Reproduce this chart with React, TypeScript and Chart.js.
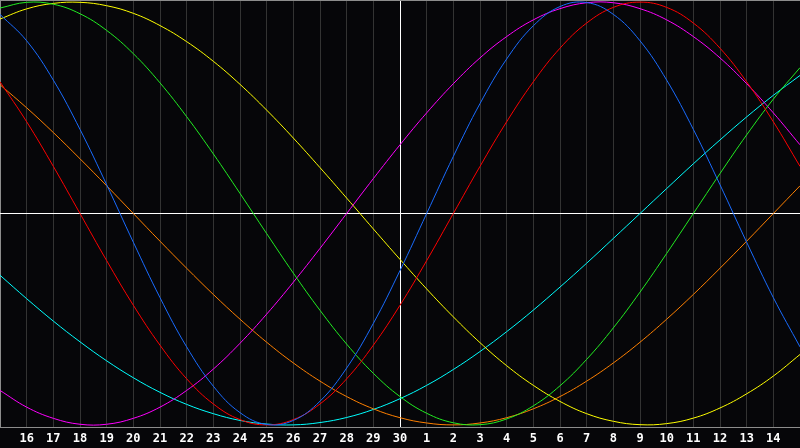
import React, { useEffect, useRef } from "react";
import { Chart, registerables } from "chart.js";

Chart.register(...registerables);

const dayLabels = [
  "15", "16", "17", "18", "19", "20", "21", "22", "23", "24", "25", "26", "27", "28", "29", "30",
  "1", "2", "3", "4", "5", "6", "7", "8", "9", "10", "11", "12", "13", "14", "15",
];
const todayIndex = 15;

const physical = [0.942, 0.817, 0.631, 0.398, 0.136, -0.136, -0.398, -0.631, -0.817, -0.942, -0.998, -0.979, -0.888, -0.731, -0.520, -0.270, 0, 0.270, 0.520, 0.731, 0.888, 0.979, 0.998, 0.942, 0.817, 0.631, 0.398, 0.136, -0.136, -0.398, -0.631];
const emotional = [0.623, 0.434, 0.223, 0, -0.223, -0.434, -0.623, -0.782, -0.901, -0.975, -1.000, -0.975, -0.901, -0.782, -0.623, -0.434, -0.223, 0, 0.223, 0.434, 0.623, 0.782, 0.901, 0.975, 1.000, 0.975, 0.901, 0.782, 0.623, 0.434, 0.223];
const intellectual = [0.972, 0.999, 0.990, 0.945, 0.866, 0.756, 0.618, 0.458, 0.282, 0.095, -0.095, -0.282, -0.458, -0.618, -0.756, -0.866, -0.945, -0.990, -0.999, -0.972, -0.910, -0.815, -0.690, -0.541, -0.372, -0.189, 0, 0.189, 0.372, 0.541, 0.690];
const intuitive = [-0.837, -0.916, -0.969, -0.997, -0.997, -0.969, -0.916, -0.837, -0.736, -0.614, -0.476, -0.325, -0.165, 0, 0.165, 0.325, 0.476, 0.614, 0.736, 0.837, 0.916, 0.969, 0.997, 0.997, 0.969, 0.916, 0.837, 0.736, 0.614, 0.476, 0.325];
const aesthetic = [0.920, 0.968, 0.994, 0.999, 0.983, 0.947, 0.889, 0.813, 0.720, 0.611, 0.489, 0.357, 0.217, 0.073, -0.073, -0.217, -0.357, -0.489, -0.611, -0.720, -0.813, -0.889, -0.947, -0.983, -0.999, -0.994, -0.968, -0.920, -0.853, -0.769, -0.667];
const awareness = [0.609, 0.500, 0.383, 0.259, 0.131, 0, -0.131, -0.259, -0.383, -0.500, -0.609, -0.707, -0.793, -0.866, -0.924, -0.966, -0.991, -1.000, -0.991, -0.966, -0.924, -0.866, -0.793, -0.707, -0.609, -0.500, -0.383, -0.259, -0.131, 0, 0.131];
const spiritual = [-0.292, -0.403, -0.509, -0.607, -0.697, -0.777, -0.846, -0.903, -0.947, -0.979, -0.996, -1.000, -0.989, -0.965, -0.927, -0.876, -0.813, -0.738, -0.653, -0.559, -0.457, -0.348, -0.235, -0.118, 0, 0.118, 0.235, 0.348, 0.457, 0.559, 0.653];

const seriesNames = ["Physical", "Emotional", "Intellectual", "Intuitive", "Aesthetic", "Awareness", "Spiritual"];
const seriesValues = [physical, emotional, intellectual, intuitive, aesthetic, awareness, spiritual];
const seriesColors = ["#1a6cff", "#ff0000", "#22ee22", "#ff00ff", "#ffff00", "#ff8000", "#00ffff"];

const Y_MIN = -1.01;
const Y_MAX = 1.01;

export default function App() {
  const ref = useRef<HTMLCanvasElement | null>(null);

  useEffect(() => {
    if (!ref.current) return;
    const chart = new Chart(ref.current, {
      type: "line",
      data: {
        labels: dayLabels,
        datasets: seriesNames.map((name, i) => ({
          label: name,
          data: seriesValues[i],
          borderColor: seriesColors[i],
          backgroundColor: seriesColors[i],
          borderWidth: 1,
          pointRadius: 0,
          tension: 0.4,
          capBezierPoints: false,
          fill: false,
        })),
      },
      options: {
        animation: false,
        responsive: false,
        events: [],
        layout: { padding: 0 },
        plugins: {
          legend: { display: false },
          tooltip: { enabled: false },
          title: { display: false },
        },
        scales: {
          x: {
            type: "category",
            offset: false,
            afterFit: (s: any) => {
              s.height = 21;
              s.paddingLeft = 0;
              s.paddingRight = 0;
            },
            grid: {
              drawTicks: false,
              lineWidth: 1,
              color: (ctx: any) => {
                if (ctx.index === 0) return "#8c8c8c";
                if (ctx.index === todayIndex) return "#ffffff";
                if (ctx.index === dayLabels.length - 1) return "rgba(0,0,0,0)";
                return "#333333";
              },
            },
            border: { display: true, color: "#8c8c8c", width: 1 },
            ticks: {
              autoSkip: false,
              maxRotation: 0,
              minRotation: 0,
              padding: 5,
              color: "#ffffff",
              font: { family: "'DejaVu Sans Mono', monospace", size: 12, weight: "bold" },
              callback: (_v: any, index: number) =>
                index === 0 || index === dayLabels.length - 1 ? "" : dayLabels[index],
            },
          },
          y: {
            min: Y_MIN,
            max: Y_MAX,
            afterFit: (s: any) => {
              s.width = 0;
              s.paddingTop = 0;
              s.paddingBottom = 0;
            },
            afterBuildTicks: (s: any) => {
              s.ticks = [{ value: 0 }, { value: Y_MAX }];
            },
            grid: {
              drawTicks: false,
              lineWidth: 1,
              color: (ctx: any) => (ctx.tick && ctx.tick.value === 0 ? "#ffffff" : "#8c8c8c"),
            },
            border: { display: false },
            ticks: { display: false },
          },
        },
      },
    });
    return () => chart.destroy();
  }, []);

  return (
    <div
      style={{
        position: "fixed",
        left: 0,
        top: 0,
        width: 800,
        height: 448,
        background: "#060609",
      }}
    >
      <canvas ref={ref} width={800} height={448} style={{ display: "block", width: 800, height: 448 }} />
    </div>
  );
}
